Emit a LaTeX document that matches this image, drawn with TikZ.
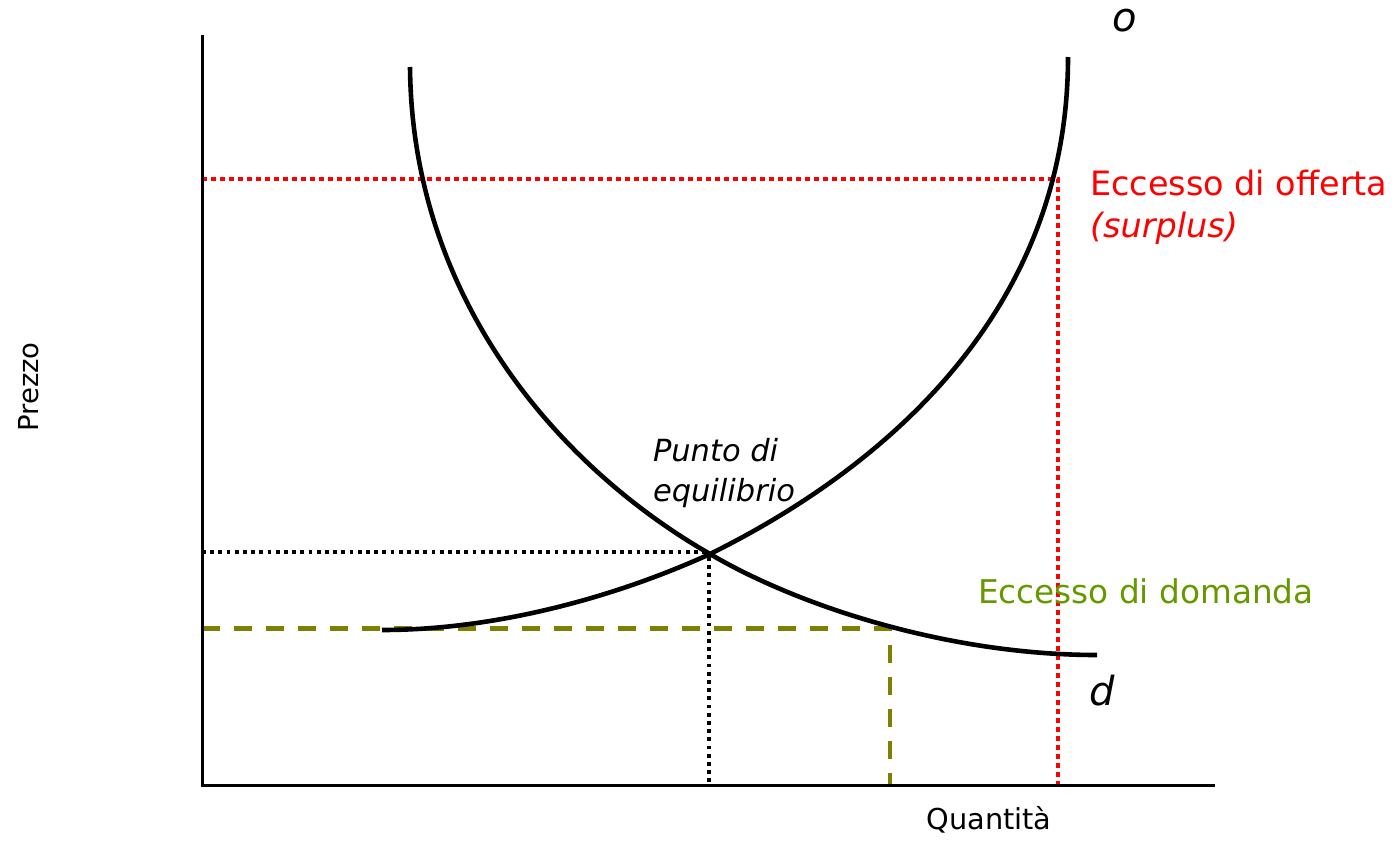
\documentclass[tikz,border=0pt]{standalone}
\usepackage{fontspec}
\setmainfont{DejaVu Sans}
\definecolor{rossoecc}{HTML}{FF0000}
\definecolor{verdeecc}{HTML}{669900}
\definecolor{oliva}{HTML}{808000}
\tikzset{
  axisline/.style={line width=3pt, black},
  curveline/.style={line width=4.6pt, black},
  reddots/.style={line width=4.5pt, rossoecc, dash pattern=on 4.5pt off 4.5pt},
  blackdots/.style={line width=3.8pt, black, dash pattern=on 3.8pt off 4.4pt},
  olivedash/.style={line width=4.2pt, oliva, dash pattern=on 18pt off 14pt},
  lbl/.style={inner sep=0pt, outer sep=0pt},
}
\begin{document}
\begin{tikzpicture}[x=1pt, y=-1pt]
\useasboundingbox (0,0) rectangle (1396,840);
% coordinates
\coordinate (O) at (202,785);
\coordinate (Ytop) at (202,35);
\coordinate (Xend) at (1215,785);
\coordinate (E) at (710,554);
\coordinate (S0) at (382,630);
\coordinate (S1) at (1068,57);
\coordinate (D0) at (410,67);
\coordinate (D1) at (1097,655);
\coordinate (Dx) at (890,628.5);
\coordinate (Rx) at (1058,179);
% guide lines
\draw[reddots] (202,179) -- (Rx) -- (1058,785);
\draw[blackdots] (202,552) -- (709,552);
\draw[blackdots] (709,557) -- (709,785);
\draw[olivedash] (202,628.5) -- (Dx) -- (890,785);
% axes
\draw[axisline] (Ytop) -- (O) -- (Xend);
% supply curve
\draw[curveline] (S0) .. controls (500,630) and (620,595) .. (E)
   .. controls (900,460) and (1068,300) .. (S1);
% demand curve
\draw[curveline] (D0) .. controls (412,300) and (560,468) .. (E)
   .. controls (800,607) and (950,655) .. (D1);
% labels
\node[lbl, anchor=base] (lo) at (1125,32) {\fontsize{40}{40}\selectfont\itshape o};
\node[lbl, anchor=base] (ld) at (1102,705) {\fontsize{40}{40}\selectfont\itshape d};
\node[lbl, anchor=base west, text=rossoecc] (eo) at (1090,195) {\fontsize{33.5}{36}\selectfont Eccesso di offerta};
\node[lbl, anchor=base west, text=rossoecc] (sp) at (1090,237) {\fontsize{33.5}{36}\selectfont\itshape (surplus)};
\node[lbl, anchor=base west, text=verdeecc] (ed) at (978,603) {\fontsize{32.7}{36}\selectfont Eccesso di domanda};
\node[lbl, anchor=base west] (pe1) at (653,461) {\fontsize{30.5}{36}\selectfont\itshape Punto di};
\node[lbl, anchor=base west] (pe2) at (653,501) {\fontsize{30.5}{36}\selectfont\itshape equilibrio};
\node[lbl, anchor=base, rotate=90] (py) at (38,387) {\fontsize{27.5}{30}\selectfont Prezzo};
\node[lbl, anchor=base] (qx) at (989,829) {\fontsize{28.8}{30}\selectfont Quantità};
\end{tikzpicture}
\end{document}
